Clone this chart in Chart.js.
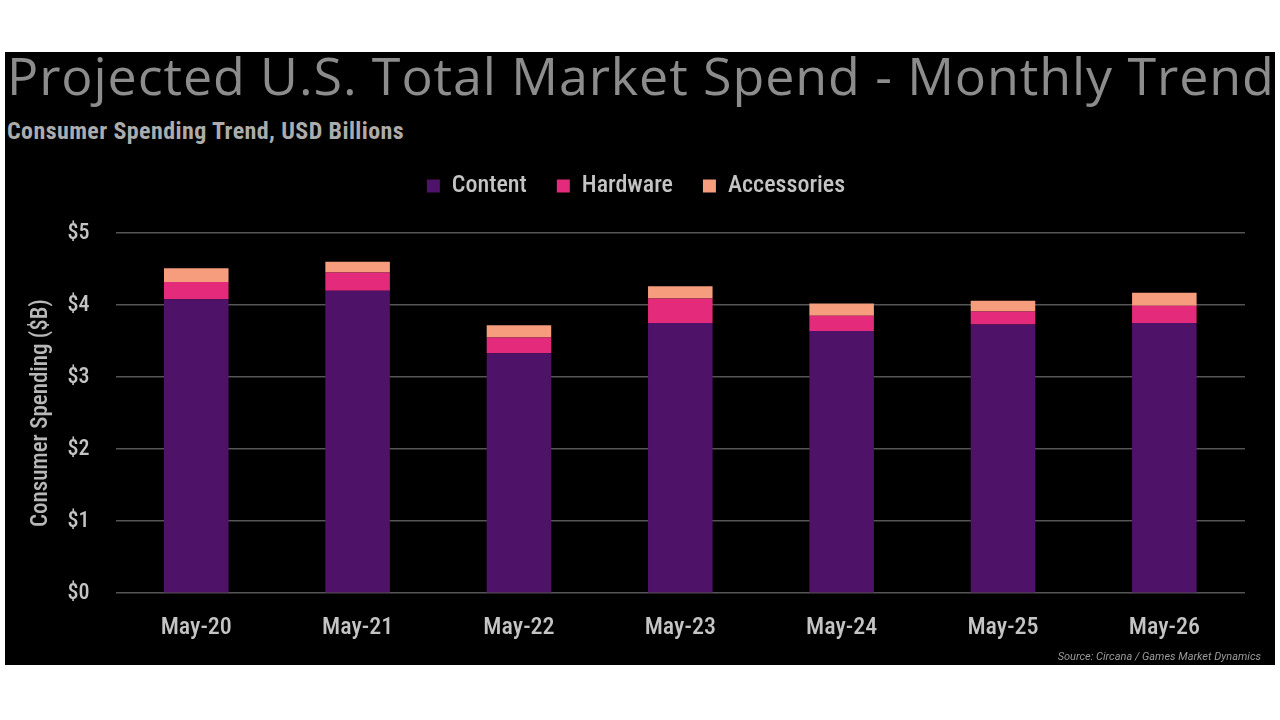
<!DOCTYPE html>
<html>
<head>
<meta charset="utf-8">
<script src="https://cdn.jsdelivr.net/npm/chart.js@4.4.1/dist/chart.umd.min.js"></script>
<style>
  html, body { margin: 0; padding: 0; background: #ffffff; }
  #panel {
    position: absolute; left: 5px; top: 52px; width: 1270px; height: 613px;
    background: #000000; overflow: hidden;
  }
  #title {
    position: absolute; left: 2px; top: -13px; white-space: nowrap;
    font-family: 'Open Sans', sans-serif; font-weight: 400; font-size: 52px;
    color: #8c8c8c; letter-spacing: 0.9px;
  }
  #subtitle {
    position: absolute; left: 2px; top: 65px; white-space: nowrap;
    font-family: 'Roboto Condensed', Roboto, sans-serif;
    font-weight: 700; font-size: 24px; color: #acacac; letter-spacing: 0.4px;
  }
  #source {
    position: absolute; right: 14px; bottom: 2px; white-space: nowrap;
    font-family: Roboto, sans-serif; font-style: italic; font-size: 11px; color: #9a9a9a;
  }
  #wrap { position: absolute; left: 0; top: 92px; width: 1270px; height: 510px; }
</style>
</head>
<body>
<div id="panel">
  <div id="title">Projected U.S. Total Market Spend - Monthly Trend</div>
  <div id="subtitle">Consumer Spending Trend, USD Billions</div>
  <div id="wrap"><canvas id="chart"></canvas></div>
  <div id="source">Source: Circana / Games Market Dynamics</div>
</div>
<script>
// ------------------------------------------------------------
// data
// ------------------------------------------------------------
const months = ['May-20', 'May-21', 'May-22', 'May-23', 'May-24', 'May-25', 'May-26'];
const content = [4.08, 4.20, 3.33, 3.75, 3.64, 3.73, 3.75];
const hardware = [0.24, 0.25, 0.22, 0.34, 0.21, 0.18, 0.24];
const accessories = [0.19, 0.15, 0.17, 0.17, 0.17, 0.15, 0.18];
const yTicks = [0, 1, 2, 3, 4, 5];

Chart.defaults.color = '#c4c4c4';
Chart.defaults.font.family = "'Roboto Condensed', Roboto, sans-serif";
Chart.defaults.font.weight = '500';

// push the plot down below the legend
const legendGap = {
  id: 'legendGap',
  beforeInit(chart) {
    const fit = chart.legend.fit;
    chart.legend.fit = function () {
      fit.bind(chart.legend)();
      this.height += 25;
    };
  },
};

new Chart(document.getElementById('chart').getContext('2d'), {
  type: 'bar',
  data: {
    labels: months,
    datasets: [
      { label: 'Content', data: content, backgroundColor: '#4e1369' },
      { label: 'Hardware', data: hardware, backgroundColor: '#e42a7a' },
      { label: 'Accessories', data: accessories, backgroundColor: '#f59d7c' },
    ].map(ds => ({ ...ds, borderWidth: 0, barPercentage: 0.5, categoryPercentage: 0.8 })),
  },
  options: {
    responsive: true,
    maintainAspectRatio: false,
    animation: false,
    layout: { padding: { left: 22, right: 30, top: 0, bottom: 0 } },
    scales: {
      x: {
        stacked: true,
        grid: { display: false },
        border: { display: false },
        ticks: { font: { size: 24 }, color: '#c4c4c4', padding: 12, maxRotation: 0 },
      },
      y: {
        stacked: true,
        min: 0,
        max: 5,
        afterBuildTicks: (axis) => { axis.ticks = yTicks.map(v => ({ value: v })); },
        grid: { color: '#555555', lineWidth: 1.5, drawTicks: true, tickLength: 13, tickColor: 'transparent' },
        border: { display: false },
        ticks: {
          font: { size: 22 }, color: '#c4c4c4', padding: 13,
          callback: (v) => '$' + v,
        },
        title: {
          display: true, text: 'Consumer Spending ($B)',
          font: { size: 23 }, color: '#b8b8b8', padding: { top: 0, bottom: 0 },
        },
      },
    },
    plugins: {
      legend: {
        display: true,
        position: 'top',
        labels: {
          boxWidth: 13, boxHeight: 13, padding: 30,
          font: { size: 24 }, color: '#c4c4c4',
        },
      },
      tooltip: { enabled: false },
    },
  },
  plugins: [legendGap],
});
</script>
</body>
</html>
